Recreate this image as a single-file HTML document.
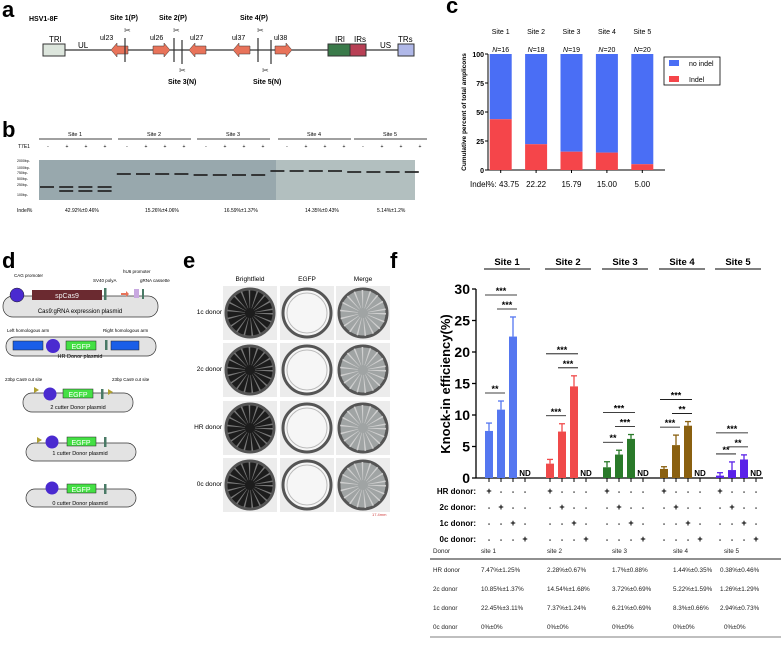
<!DOCTYPE html>
<html><head><meta charset="utf-8"><style>
body{margin:0;background:#fff;width:781px;height:640px;overflow:hidden}
svg{font-family:"Liberation Sans",Arial,sans-serif}
</style></head><body>
<svg id="fig" width="781" height="640" viewBox="0 0 781 640">
<g font-weight="bold" font-size="22">
<text x="2" y="17">a</text>
<text x="2" y="137">b</text>
<text x="446" y="13">c</text>
<text x="2" y="268">d</text>
<text x="183" y="268">e</text>
<text x="390" y="268">f</text>
</g>

<g font-size="7">
<text x="29" y="21" font-weight="bold" font-size="7">HSV1-8F</text>
<line x1="65" y1="50" x2="398" y2="50" stroke="#000" stroke-width="1"/>
<rect x="43" y="44" width="22" height="12" fill="#dde6dd" stroke="#333"/>
<text x="49" y="42" font-size="8">TRl</text><text x="78" y="48" font-size="8">UL</text>
<path d="M128 46h-11v-3l-6 7 6 7v-3h11z" fill="#e8735a" stroke="#333" stroke-width=".5"/>
<path d="M153 46h11v-3l6 7-6 7v-3h-11z" fill="#e8735a" stroke="#333" stroke-width=".5"/>
<path d="M206 46h-11v-3l-6 7 6 7v-3h11z" fill="#e8735a" stroke="#333" stroke-width=".5"/>
<path d="M250 46h-11v-3l-6 7 6 7v-3h11z" fill="#e8735a" stroke="#333" stroke-width=".5"/>
<path d="M275 46h11v-3l6 7-6 7v-3h-11z" fill="#e8735a" stroke="#333" stroke-width=".5"/>
<g stroke="#333" stroke-width="1.2"><line x1="125" y1="38" x2="125" y2="62"/><line x1="174" y1="38" x2="174" y2="62"/><line x1="182" y1="40" x2="182" y2="64"/><line x1="258" y1="38" x2="258" y2="62"/><line x1="271" y1="40" x2="271" y2="64"/></g>
<text x="100" y="40" font-size="7">ul23</text><text x="150" y="40" font-size="7">ul26</text><text x="190" y="40" font-size="7">ul27</text><text x="232" y="40" font-size="7">ul37</text><text x="274" y="40" font-size="7">ul38</text>
<g font-weight="bold" font-size="7"><text x="110" y="20">Site 1(P)</text><text x="159" y="20">Site 2(P)</text><text x="240" y="20">Site 4(P)</text><text x="168" y="84">Site 3(N)</text><text x="253" y="84">Site 5(N)</text></g>
<g font-size="8" fill="#333"><text x="124" y="33">✂</text><text x="173" y="33">✂</text><text x="257" y="33">✂</text><text x="179" y="73">✂</text><text x="262" y="73">✂</text></g>
<rect x="328" y="44" width="22" height="12" fill="#3a7a4a" stroke="#333"/><rect x="350" y="44" width="16" height="12" fill="#b84055" stroke="#333"/>
<rect x="398" y="44" width="16" height="12" fill="#b0b8e8" stroke="#333"/>
<text x="335" y="42" font-size="8">IRl</text><text x="354" y="42" font-size="8">IRs</text><text x="380" y="48" font-size="8">US</text><text x="398" y="42" font-size="8">TRs</text>
</g>

<g font-size="5">
<g id="gelhdr"></g>
<text x="18" y="148" font-size="5">T7E1</text>
<rect x="39" y="160" width="237" height="40" fill="#98a8ad"/>
<rect x="276" y="160" width="139" height="40" fill="#b2bfbf"/>
<g font-size="3.5"><text x="17" y="162">2000bp-</text><text x="17" y="169">1000bp-</text><text x="17" y="174">750bp-</text><text x="17" y="180">500bp-</text><text x="17" y="186">250bp-</text><text x="17" y="196">100bp-</text></g>
<g id="gelbands"></g>
<text x="17" y="212" font-size="5">Indel%</text>
<g font-size="5"><text x="65" y="212">42.92%±0.46%</text><text x="145" y="212">15.26%±4.06%</text><text x="224" y="212">16.59%±1.37%</text><text x="305" y="212">14.35%±0.43%</text><text x="377" y="212">5.14%±1.2%</text></g>
</g>

<g id="chartC"></g>

<g font-size="4.5">
<rect x="3" y="296" width="155" height="21" rx="10" fill="#e3e3e3" stroke="#333" stroke-width=".7"/>
<circle cx="17" cy="295" r="7" fill="#4a2ad0" stroke="#222" stroke-width=".5"/>
<rect x="32" y="290" width="70" height="10" fill="#6b2a30"/><text x="67" y="298" text-anchor="middle" fill="#eee" font-size="7">spCas9</text>
<rect x="104" y="288" width="2.5" height="12" fill="#4a7a66"/><path d="M121 293h5v-2l3 3-3 3v-2h-5z" fill="#e8735a"/>
<rect x="134" y="289" width="5" height="9" fill="#c8a8e0"/><rect x="142" y="289" width="2" height="10" fill="#4a7a66"/>
<text x="14" y="277">CAG promoter</text><text x="93" y="282">SV40 polyA</text><text x="123" y="273">hU6 promoter</text><text x="140" y="282">gRNA cassette</text>
<text x="80" y="313" text-anchor="middle" font-size="6">Cas9:gRNA expression plasmid</text>
<rect x="6" y="337" width="150" height="19" rx="9" fill="#e3e3e3" stroke="#333" stroke-width=".7"/>
<rect x="13" y="341" width="30" height="9" fill="#1a5ee8" stroke="#222" stroke-width=".5"/><circle cx="53" cy="346" r="7" fill="#4a2ad0"/>
<rect x="66" y="341" width="30" height="9" fill="#44e044" stroke="#222" stroke-width=".5"/><text x="81" y="349" text-anchor="middle" fill="#fff" font-size="7">EGFP</text>
<rect x="105" y="340" width="2.5" height="10" fill="#4a7a66"/><rect x="111" y="341" width="28" height="9" fill="#1a5ee8" stroke="#222" stroke-width=".5"/>
<text x="7" y="332">Left homologous arm</text><text x="103" y="332">Right homologous arm</text>
<text x="80" y="358" text-anchor="middle" font-size="5.5">HR Donor plasmid</text>
<text x="5" y="381">23bp Cas9 cut site</text><text x="112" y="381">23bp Cas9 cut site</text>
<rect x="23" y="393" width="110" height="19" rx="9" fill="#e3e3e3" stroke="#333" stroke-width=".7"/>
<path d="M34 387l5 3-5 3z" fill="#b0a030"/><circle cx="50" cy="394" r="6.5" fill="#4a2ad0"/>
<rect x="63" y="389" width="30" height="9" fill="#44e044" stroke="#222" stroke-width=".5"/><text x="78" y="397" text-anchor="middle" fill="#fff" font-size="7">EGFP</text>
<rect x="101" y="389" width="2.5" height="10" fill="#4a7a66"/><path d="M108 389l5 3-5 3z" fill="#b0a030"/>
<text x="78" y="409" text-anchor="middle" font-size="5.5">2 cutter Donor plasmid</text>
<rect x="26" y="443" width="110" height="18" rx="9" fill="#e3e3e3" stroke="#333" stroke-width=".7"/>
<path d="M37 437l5 3-5 3z" fill="#b0a030"/><circle cx="52" cy="442" r="6.5" fill="#4a2ad0"/>
<rect x="67" y="437" width="29" height="9" fill="#44e044" stroke="#222" stroke-width=".5"/><text x="81" y="445" text-anchor="middle" fill="#fff" font-size="7">EGFP</text>
<rect x="104" y="437" width="2.5" height="10" fill="#4a7a66"/>
<text x="80" y="455" text-anchor="middle" font-size="5.5">1 cutter Donor plasmid</text>
<rect x="26" y="489" width="110" height="18" rx="9" fill="#e3e3e3" stroke="#333" stroke-width=".7"/>
<circle cx="52" cy="488" r="6.5" fill="#4a2ad0"/>
<rect x="67" y="484" width="29" height="9" fill="#44e044" stroke="#222" stroke-width=".5"/><text x="81" y="492" text-anchor="middle" fill="#fff" font-size="7">EGFP</text>
<rect x="104" y="484" width="2.5" height="10" fill="#4a7a66"/>
<text x="80" y="505" text-anchor="middle" font-size="5.5">0 cutter Donor plasmid</text>
</g>

<g id="plates" font-size="6.5">
<text x="250" y="281" text-anchor="middle">Brightfield</text><text x="307" y="281" text-anchor="middle">EGFP</text><text x="363" y="281" text-anchor="middle">Merge</text>
<text x="222" y="314" text-anchor="end">1c donor</text><text x="222" y="371" text-anchor="end">2c donor</text><text x="222" y="429" text-anchor="end">HR donor</text><text x="222" y="486" text-anchor="end">0c donor</text>
<text x="372" y="516" font-size="4" fill="#d04040">17.4mm</text>
</g>

<g id="chartF"></g>

<g font-size="6.3" fill="#222">
<line x1="430" y1="559" x2="781" y2="559" stroke="#222" stroke-width="1"/>
<line x1="430" y1="637" x2="781" y2="637" stroke="#555" stroke-width=".7"/>
<text x="433" y="553">Donor</text><text x="481" y="553">site 1</text><text x="547" y="553">site 2</text><text x="612" y="553">site 3</text><text x="673" y="553">site 4</text><text x="724" y="553">site 5</text>
<text x="433" y="572">HR donor</text><text x="481" y="572">7.47%±1.25%</text><text x="547" y="572">2.28%±0.67%</text><text x="612" y="572">1.7%±0.88%</text><text x="673" y="572">1.44%±0.35%</text><text x="720" y="572">0.38%±0.46%</text>
<text x="433" y="591">2c donor</text><text x="481" y="591">10.85%±1.37%</text><text x="547" y="591">14.54%±1.68%</text><text x="612" y="591">3.72%±0.69%</text><text x="673" y="591">5.22%±1.59%</text><text x="720" y="591">1.26%±1.29%</text>
<text x="433" y="610">1c donor</text><text x="481" y="610">22.45%±3.11%</text><text x="547" y="610">7.37%±1.24%</text><text x="612" y="610">6.21%±0.69%</text><text x="673" y="610">8.3%±0.66%</text><text x="720" y="610">2.94%±0.73%</text>
<text x="433" y="629">0c donor</text><text x="481" y="629">0%±0%</text><text x="547" y="629">0%±0%</text><text x="612" y="629">0%±0%</text><text x="673" y="629">0%±0%</text><text x="724" y="629">0%±0%</text>
</g>
</svg>
<script>
const cSites = ["Site 1","Site 2","Site 3","Site 4","Site 5"];
const cN = [16,18,19,20,20];
const cIndel = [43.75,22.22,15.79,15.00,5.00];
const cTicks = [0,25,50,75,100];
const fSites = ["Site 1","Site 2","Site 3","Site 4","Site 5"];
const fHR = [7.47,2.28,1.7,1.44,0.38];
const f2c = [10.85,7.37,3.72,5.22,1.26];
const f1c = [22.45,14.54,6.21,8.3,2.94];
const fHRerr = [1.25,0.67,0.88,0.35,0.46];
const f2cErr = [1.37,1.24,0.69,1.59,1.29];
const f1cErr = [3.11,1.68,0.69,0.66,0.73];
const fTicks = [0,5,10,15,20,25,30];
const fColors = ["#5577f0","#f04a4a","#2a7a2a","#8a6010","#5a22e8"];

const NS="http://www.w3.org/2000/svg";
function mk(parent,tag,attrs,txt){const e=document.createElementNS(NS,tag);for(const k in attrs)e.setAttribute(k,attrs[k]);if(txt!==undefined)e.textContent=txt;parent.appendChild(e);return e;}

(function(){
 const g=document.getElementById('gelhdr');
 const hdr=["Site 1","Site 2","Site 3","Site 4","Site 5"];
 const x0=[39,118,197,278,354];
 for(let i=0;i<5;i++){
  const t=mk(g,'text',{x:x0[i]+36,y:136,'text-anchor':'middle','font-size':5.5},hdr[i]);
  
  
  mk(g,'line',{x1:x0[i],y1:139,x2:x0[i]+73,y2:139,stroke:'#000','stroke-width':.7});
  ['-','+','+','+'].forEach((s,j)=>mk(g,'text',{x:x0[i]+9+j*19,y:148,'text-anchor':'middle','font-size':5},s));
 }
 const b=document.getElementById('gelbands');
 for(let i=0;i<20;i++){
  const x=40+i*19.2, site=Math.floor(i/4);
  const y=[186,173,174,170,171][site];
  mk(b,'rect',{x:x,y:y,width:14,height:2,fill:'#222','opacity':.85});
  if(site===0&&i%4) mk(b,'rect',{x:x,y:190,width:14,height:2,fill:'#222','opacity':.85});
 }
})();

(function(){
 const g=document.getElementById('chartC');
 const X0=488,X1=665,Y0=170,Y100=54;
 const ys=v=>Y0-(v/100)*(Y0-Y100);
 const step=(X1-X0)/cSites.length;
 const xc=i=>X0+step*(i+0.5)-5;
 mk(g,'line',{x1:X0,y1:Y100,x2:X0,y2:Y0,stroke:'#000','stroke-width':1});
 mk(g,'line',{x1:X0,y1:Y0,x2:X1,y2:Y0,stroke:'#000','stroke-width':1});
 cTicks.forEach(v=>{
  mk(g,'line',{x1:X0-3,y1:ys(v),x2:X0,y2:ys(v),stroke:'#000'});
  const t=mk(g,'text',{x:X0-4,y:ys(v)+3,'text-anchor':'end','font-size':7,'font-weight':'bold'},v);
  
  
 });
 const yt=mk(g,'text',{x:0,y:0,transform:'translate(466,112) rotate(-90)','text-anchor':'middle','font-size':6.5,'font-weight':'bold'},'Cumulative percent of total amplicons');
 
 
 mk(g,'text',{x:470,y:187,'font-size':8},'Indel%:');
 cSites.forEach((s,i)=>{
  const x=xc(i);
  const r1=mk(g,'rect',{x:x-11,y:ys(100),width:22,height:ys(cIndel[i])-ys(100),fill:'#4a6ef5'});
  
  
  const r2=mk(g,'rect',{x:x-11,y:ys(cIndel[i]),width:22,height:Y0-ys(cIndel[i]),fill:'#f5454a'});
  
  
  mk(g,'line',{x1:x,y1:Y0,x2:x,y2:Y0+3,stroke:'#000'});
  mk(g,'text',{x:x,y:34,'text-anchor':'middle','font-size':7},s);
  const n=mk(g,'text',{x:x,y:52,'text-anchor':'middle','font-size':7});
  mk(n,'tspan',{'font-style':'italic'},'N');mk(n,'tspan',{},'='+cN[i]);
  mk(g,'text',{x:i===0?499:x,y:187,'text-anchor':i===0?'start':'middle','font-size':8},cIndel[i].toFixed(2));
 });
 const lg=mk(g,'g',{});
 
 
 mk(lg,'rect',{x:664,y:57,width:56,height:28,fill:'#fff',stroke:'#000','stroke-width':.8});
 mk(lg,'rect',{x:669,y:60,width:10,height:6,fill:'#4a6ef5'});
 mk(lg,'text',{x:689,y:66,'font-size':7},'no indel');
 mk(lg,'rect',{x:669,y:76,width:10,height:6,fill:'#f5454a'});
 mk(lg,'text',{x:689,y:82,'font-size':7},'Indel');
})();

(function(){
 const g=document.getElementById('plates');
 const xs=[250,307,363], ys=[313,370,428,485];
 ys.forEach(y=>xs.forEach((x,j)=>{
  mk(g,'rect',{x:x-27,y:y-27,width:54,height:54,fill:'#ececec'});
  const c=mk(g,'circle',{cx:x,cy:y,r:24,fill:['#1c1c1c','#f6f6f6','#a0a4a4'][j],stroke:'#555','stroke-width':3});
  
  
  if(j!==1) mk(g,'circle',{cx:x,cy:y,r:14,fill:'none',stroke:j===0?'#777':'#d0d0d0','stroke-width':18,'stroke-dasharray':'1 4'});
  else mk(g,'circle',{cx:x,cy:y,r:20,fill:'none',stroke:'#bbb','stroke-width':1});
 }));
})();

(function(){
 const g=document.getElementById('chartF');
 const X0=476,X1=763,Y0=478,Y30=289;
 const ys=v=>Y0-(v/30)*(Y0-Y30);
 const gx=[489,550,607,664,720], dx=12, bw=8;
 mk(g,'line',{x1:X0,y1:Y30,x2:X0,y2:Y0,stroke:'#000','stroke-width':1.3});
 mk(g,'line',{x1:X0,y1:Y0,x2:X1,y2:Y0,stroke:'#000','stroke-width':1.3});
 fTicks.forEach(v=>{
  mk(g,'line',{x1:X0-4,y1:ys(v),x2:X0,y2:ys(v),stroke:'#000','stroke-width':1.3});
  const t=mk(g,'text',{x:X0-6,y:ys(v)+5,'text-anchor':'end','font-size':14,'font-weight':'bold'},v);
  
  
 });
 const yt=mk(g,'text',{x:0,y:0,transform:'translate(450,384) rotate(-90)','text-anchor':'middle','font-size':13,'font-weight':'bold'},'Knock-in efficiency(%)');
 
 
 const rows=["HR donor:","2c donor:","1c donor:","0c donor:"], rowY=[491,507,523,539];
 rows.forEach((r,k)=>mk(g,'text',{x:476,y:rowY[k]+3,'text-anchor':'end','font-size':8,'font-weight':'bold'},r));
 fSites.forEach((s,i)=>{
  const cx=gx[i]+dx*1.5;
  const st=mk(g,'text',{x:cx,y:265,'text-anchor':'middle','font-size':9.5,'font-weight':'bold'},s);
  
  
  mk(g,'line',{x1:cx-23,y1:269,x2:cx+23,y2:269,stroke:'#000','stroke-width':1});
  const vals=[fHR[i],f2c[i],f1c[i]], errs=[fHRerr[i],f2cErr[i],f1cErr[i]];
  vals.forEach((v,j)=>{
   const x=gx[i]+j*dx;
   const r=mk(g,'rect',{x:x-bw/2,y:ys(v),width:bw,height:Y0-ys(v),fill:fColors[i]});
   
   
   const ye=ys(v+errs[j]);
   mk(g,'line',{x1:x,y1:ys(v),x2:x,y2:ye,stroke:fColors[i],'stroke-width':1.3});
   mk(g,'line',{x1:x-3,y1:ye,x2:x+3,y2:ye,stroke:fColors[i],'stroke-width':1.3});
  });
  mk(g,'text',{x:gx[i]+3*dx,y:Y0-2,'text-anchor':'middle','font-size':8,'font-weight':'bold'},'ND');
  for(let j=0;j<4;j++){
   mk(g,'line',{x1:gx[i]+j*dx,y1:Y0,x2:gx[i]+j*dx,y2:Y0+4,stroke:'#000'});
   rows.forEach((r,k)=>mk(g,'text',{x:gx[i]+j*dx,y:rowY[k]+3,'text-anchor':'middle','font-size':k===j?9:7,'font-weight':'bold'},k===j?'+':'-'));
  }
  const top=Math.max(...vals.map((v,j)=>v+errs[j]));
  const p1=ys(vals[1]+errs[1])-8, p2=ys(top)-22, p3=ys(top)-8;
  const sig=[["**","***","***"],["***","***","***"],["**","***","***"],["***","***","**"],["**","***","**"]][i];
  [[0,1,p1,sig[0]],[0,2,p2,sig[1]],[1,2,p3,sig[2]]].forEach(([a,b,y,lab])=>{
   mk(g,'line',{x1:gx[i]+a*dx-4,y1:y,x2:gx[i]+b*dx+4,y2:y,stroke:'#000','stroke-width':.8});
   mk(g,'text',{x:gx[i]+(a+b)*dx/2,y:y-1,'text-anchor':'middle','font-size':9,'font-weight':'bold'},lab);
  });
 });
})();
</script>
</body></html>
